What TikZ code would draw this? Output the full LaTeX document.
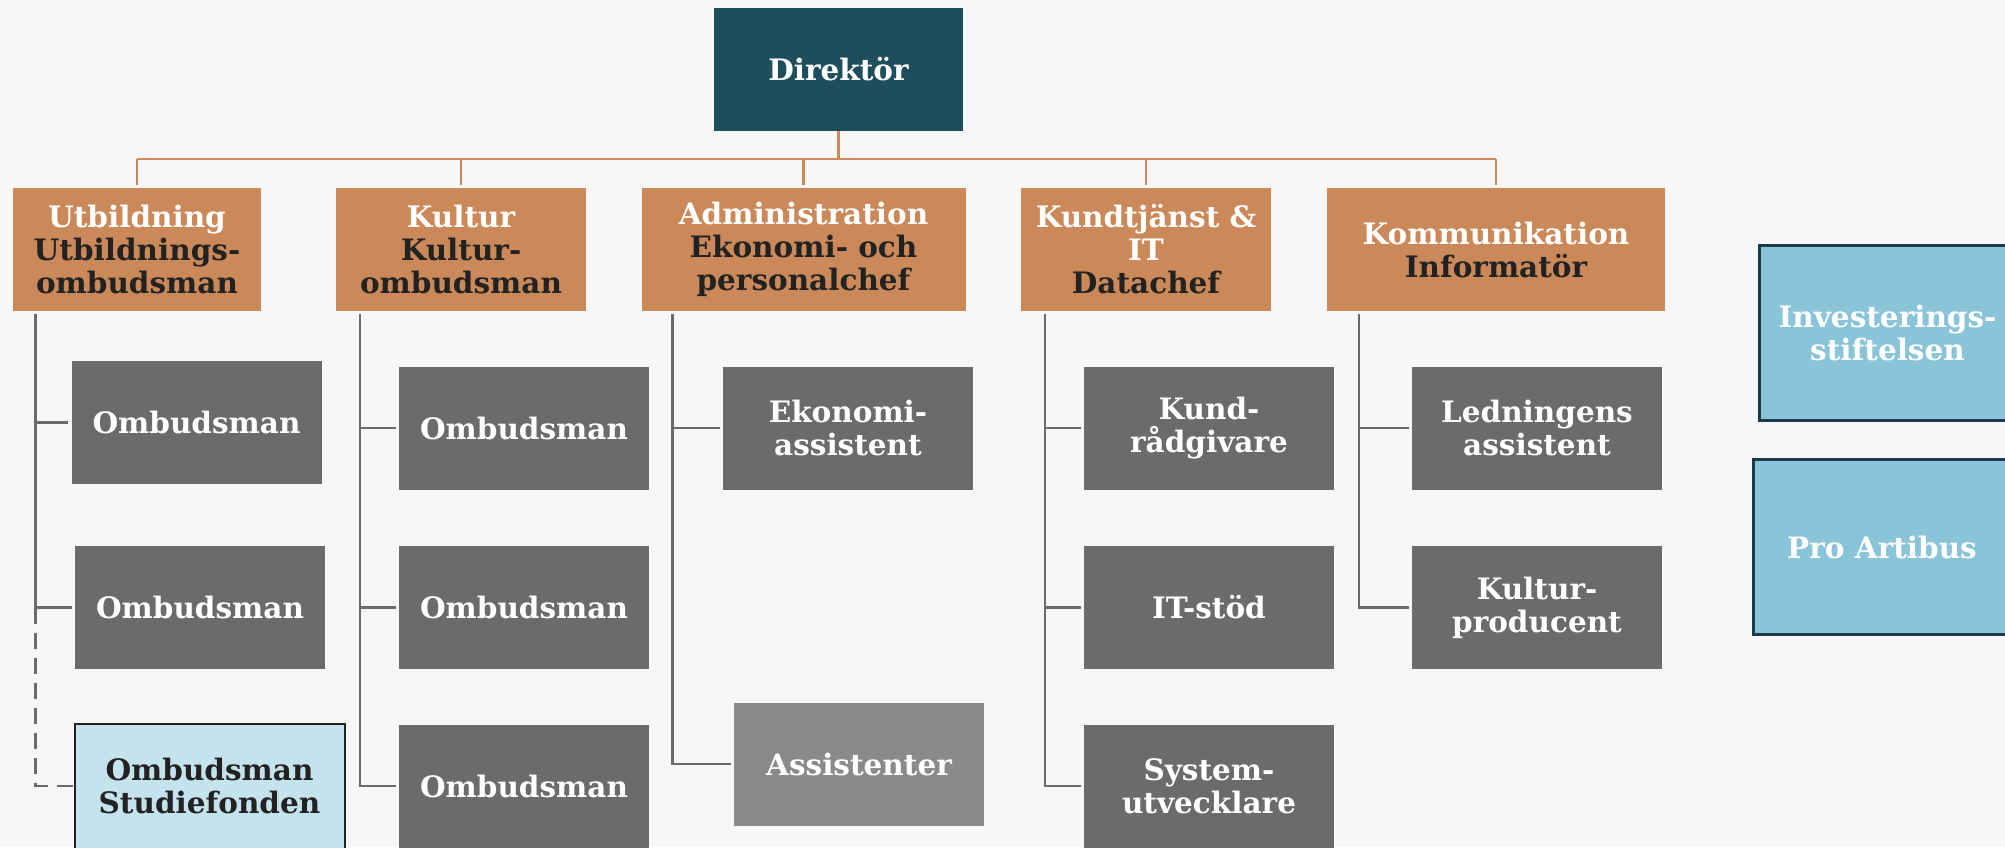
\documentclass[tikz,border=0pt]{standalone}
\usepackage{fontspec}
\setmainfont{DejaVu Serif}
\definecolor{bg}{HTML}{F7F7F7}
\definecolor{dirc}{HTML}{1E4D5C}
\definecolor{orng}{HTML}{CB8859}
\definecolor{gbox}{HTML}{6B6B6B}
\definecolor{gboxl}{HTML}{8A8A8A}
\definecolor{gline}{HTML}{6B6B6B}
\definecolor{hdark}{HTML}{222222}
\definecolor{lblue}{HTML}{8AC4D8}
\definecolor{pblue}{HTML}{C5E3EC}
\definecolor{bdark}{HTML}{1B3A48}
\begin{document}
\begin{tikzpicture}[x=1pt,y=-1pt,
  every node/.style={inner sep=0pt, align=center, font=\fontsize{29.5}{33}\selectfont\bfseries},
  dirbox/.style={fill=dirc, text=white, minimum width=249pt, minimum height=123pt},
  headbox/.style={fill=orng, text=hdark, minimum height=123pt},
  graybox/.style={fill=gbox, text=white, minimum width=250pt, minimum height=123pt},
  lgraybox/.style={fill=gboxl, text=white, minimum width=250pt, minimum height=123pt},
  stiftbox/.style={fill=lblue, draw=bdark, line width=3pt, text=white, minimum width=257pt, minimum height=175pt},
  fondbox/.style={fill=pblue, draw=hdark, line width=2pt, text=hdark, minimum width=270pt, minimum height=125pt},
  oline/.style={draw=orng, line width=2.6pt},
  gconn/.style={draw=gline, line width=2.5pt},
  dconn/.style={draw=gline, line width=2.5pt, dash pattern=on 16pt off 9pt}
]
\clip (0,0) rectangle (2005,847);
\fill[bg] (0,0) rectangle (2005,847);

% director
\node[dirbox] (dir) at (838.5,69.5) {Direktör};

% headers
\node[headbox, minimum width=248pt] (utb) at (137,249.5) {\textcolor{white}{Utbildning}\\Utbildnings-\\ombudsman};
\node[headbox, minimum width=250pt] (kul) at (461,249.5) {\textcolor{white}{Kultur}\\Kultur-\\ombudsman};
\node[headbox, minimum width=324pt] (adm) at (803.5,249.5) {\textcolor{white}{Administration}\\Ekonomi- och\\personalchef};
\node[headbox, minimum width=250pt] (kun) at (1146,249.5) {\textcolor{white}{Kundtjänst \&}\\\textcolor{white}{IT}\\Datachef};
\node[headbox, minimum width=338pt] (kom) at (1496,249.5) {\textcolor{white}{Kommunikation}\\Informatör};

% orange tree
\coordinate (bus) at (838.5,159);
\draw[oline] (dir.south) -- (dir.south |- bus);
\draw[oline] (utb.north |- bus) -- (kom.north |- bus);
\foreach \h in {utb,kul,adm,kun,kom}{
  \draw[oline, shorten >=3pt] (\h.north |- bus) -- (\h.north);
}

% Utbildning children
\node[graybox] (u1) at (196.5,422.5) {Ombudsman};
\node[graybox] (u2) at (200,607.5) {Ombudsman};
\node[fondbox] (u3) at (209.5,786) {Ombudsman\\Studiefonden};
\coordinate (us) at (35.7,314);
\draw[gconn, shorten >=3pt] (us) |- (u1.west);
\draw[gconn, shorten >=3pt] (us) |- (u2.west);
\coordinate (ud) at (35.7,607.5);
\draw[dconn] (ud) |- (u3.west);

% Kultur children
\node[graybox] (k1) at (524,428) {Ombudsman};
\node[graybox] (k2) at (524,607.5) {Ombudsman};
\node[graybox] (k3) at (524,786) {Ombudsman};
\coordinate (ks) at (360,314);
\foreach \c in {k1,k2,k3}{ \draw[gconn, shorten >=3pt] (ks) |- (\c.west); }

% Administration children
\node[graybox] (a1) at (848,428) {Ekonomi-\\assistent};
\node[lgraybox] (a2) at (859,764) {Assistenter};
\coordinate (as) at (672.6,314);
\foreach \c in {a1,a2}{ \draw[gconn, shorten >=3pt] (as) |- (\c.west); }

% Kundtjanst children
\node[graybox] (c1) at (1209,428) {Kund-\\rådgivare};
\node[graybox] (c2) at (1209,607.5) {IT-stöd};
\node[graybox] (c3) at (1209,786) {System-\\utvecklare};
\coordinate (cs) at (1045,314);
\foreach \c in {c1,c2,c3}{ \draw[gconn, shorten >=3pt] (cs) |- (\c.west); }

% Kommunikation children
\node[graybox] (m1) at (1537,428) {Ledningens\\assistent};
\node[graybox] (m2) at (1537,607.5) {Kultur-\\producent};
\coordinate (ms) at (1359,314);
\foreach \c in {m1,m2}{ \draw[gconn, shorten >=3pt] (ms) |- (\c.west); }

% foundations
\node[stiftbox] (inv) at (1887.5,333) {Investerings-\\stiftelsen};
\node[stiftbox] (pro) at (1882,547) {Pro Artibus};
\end{tikzpicture}
\end{document}
